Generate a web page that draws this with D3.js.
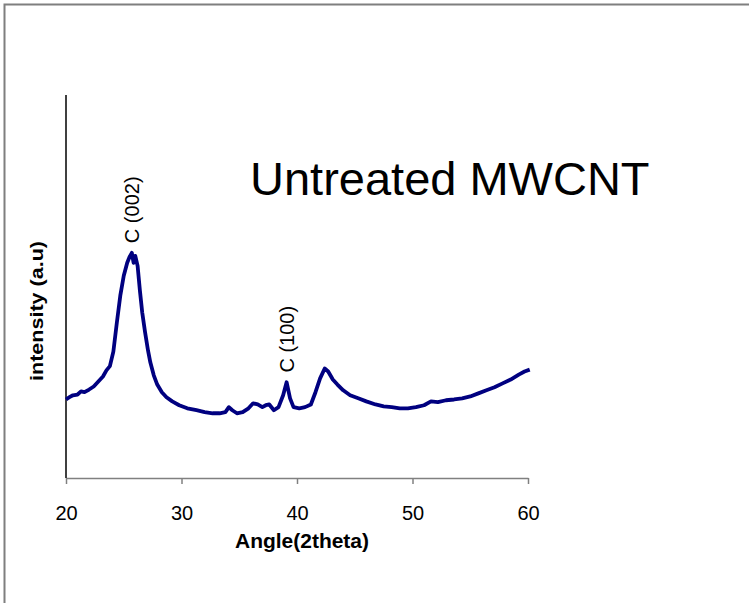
<!DOCTYPE html>
<html>
<head>
<meta charset="utf-8">
<script src="https://cdn.jsdelivr.net/npm/d3@7"></script>
<style>
  body { margin: 0; background: #fff; }
  text { font-family: "Liberation Sans", Arial, sans-serif; }
</style>
</head>
<body>
<div id="chart"></div>
<script>
// XRD scan, angle (2theta) vs intensity (a.u.)
const angles = [
  20.0, 20.3, 20.6, 21.0, 21.3, 21.6, 22.0, 22.4, 22.8, 23.2, 23.5, 23.8,
  24.1, 24.4, 24.7, 25.0, 25.3, 25.5, 25.7, 25.85, 26.0, 26.2, 26.4, 26.6,
  26.85, 27.1, 27.3, 27.6, 27.9, 28.3, 28.7, 29.2, 29.8, 30.5, 31.3, 32.0,
  32.7, 33.3, 33.8, 34.1, 34.4, 34.8, 35.3, 35.8, 36.2, 36.6, 37.0, 37.3,
  37.6, 38.0, 38.4, 38.8, 39.1, 39.4, 39.7, 40.2, 40.7, 41.2, 41.6, 42.0,
  42.4, 42.7, 43.1, 43.5, 44.0, 44.6, 45.3, 46.0, 46.8, 47.5, 48.2, 48.9,
  49.6, 50.3, 51.0, 51.6, 52.2, 52.9, 53.6, 54.3, 55.0, 55.7, 56.4, 57.1,
  57.8, 58.5, 59.2, 59.7, 60.15
];
const intensity = [
  205, 211, 216, 218, 226, 224, 231, 239, 252, 265, 281, 292,
  330, 405, 476, 528, 562, 577, 588, 562, 580, 554, 489, 432,
  380, 333, 302, 268, 244, 224, 211, 200, 190, 182, 177, 172,
  169, 169, 172, 185, 177, 169, 172, 182, 195, 192, 185, 190,
  192, 177, 185, 216, 250, 208, 185, 182, 185, 192, 224, 260,
  286, 278, 257, 244, 229, 216, 208, 200, 192, 187, 185, 182,
  182, 185, 190, 200, 198, 203, 205, 208, 213, 221, 229, 237,
  247, 257, 270, 278, 283
];
const xTicks = [20, 30, 40, 50, 60];
const peakLabels = [
  { text: 'C (002)', angle: 25.7, value: 588 },
  { text: 'C (100)', angle: 39.1, value: 250 }
];

const width = 749;
const height = 603;
const plotLeft = 66, plotRight = 528, plotTop = 95, plotBottom = 478;

const svg = d3.select('#chart')
  .append('svg')
  .attr('width', width)
  .attr('height', height);

// outer frame (only top and left edges fall inside the picture)
svg.append('rect')
  .attr('x', 4.5).attr('y', 4.5)
  .attr('width', 780).attr('height', 640)
  .attr('fill', 'none')
  .attr('stroke', '#7f7f7f')
  .attr('stroke-width', 2);

const x = d3.scaleLinear().domain([20, 60]).range([plotLeft, plotRight]);
const y = d3.scaleLinear().domain([0, 1000]).range([plotBottom, plotTop]);

// x axis
const xAxis = svg.append('g')
  .attr('transform', `translate(0, ${plotBottom})`)
  .call(d3.axisBottom(x).tickValues(xTicks).tickSize(6).tickSizeOuter(0).tickPadding(22));
xAxis.select('.domain').attr('stroke', '#808080').attr('stroke-width', 1.5);
xAxis.selectAll('.tick line').attr('stroke', '#808080').attr('stroke-width', 1.5);
xAxis.selectAll('.tick text')
  .attr('fill', '#000')
  .style('font-size', '20px')
  .style('font-family', '"Liberation Sans", Arial, sans-serif');

// y axis line, no ticks
svg.append('line')
  .attr('x1', plotLeft).attr('x2', plotLeft)
  .attr('y1', plotTop).attr('y2', plotBottom)
  .attr('stroke', '#000')
  .attr('stroke-width', 1.5);

// data line
const points = angles.map((a, i) => [a, intensity[i]]);
const line = d3.line()
  .x(d => x(d[0]))
  .y(d => y(d[1]));

svg.append('path')
  .datum(points)
  .attr('d', line)
  .attr('fill', 'none')
  .attr('stroke', '#000080')
  .attr('stroke-width', 3.8)
  .attr('stroke-linejoin', 'round');

// peak labels, rotated
svg.selectAll('.peak')
  .data(peakLabels)
  .enter()
  .append('text')
  .attr('class', 'peak')
  .attr('transform', d => `translate(${x(d.angle) + 7}, ${y(d.value) - 43}) rotate(-90)`)
  .attr('text-anchor', 'middle')
  .style('font-size', '20px')
  .text(d => d.text);

// titles
svg.append('text')
  .attr('x', 250)
  .attr('y', 195)
  .style('font-size', '47px')
  .text('Untreated MWCNT');

svg.append('text')
  .attr('x', 302)
  .attr('y', 548)
  .attr('text-anchor', 'middle')
  .style('font-size', '20px')
  .style('font-weight', 'bold')
  .attr('textLength', 134)
  .attr('lengthAdjust', 'spacingAndGlyphs')
  .text('Angle(2theta)');

svg.append('text')
  .attr('transform', 'translate(43, 311) rotate(-90)')
  .attr('text-anchor', 'middle')
  .style('font-size', '18px')
  .style('font-weight', 'bold')
  .attr('textLength', 140)
  .attr('lengthAdjust', 'spacingAndGlyphs')
  .text('intensity (a.u)');
</script>
</body>
</html>
